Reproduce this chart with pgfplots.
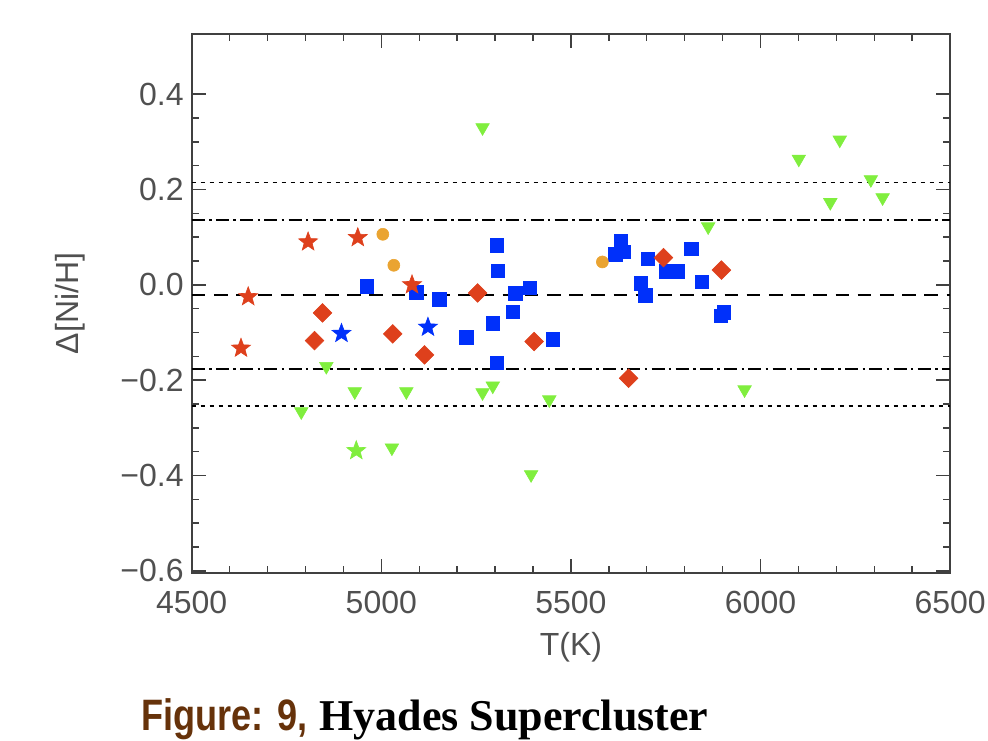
\documentclass[border=0pt]{standalone}
\usepackage{fontspec}
\setmainfont{Liberation Sans}
\newfontfamily\capserif{Liberation Serif}
\newfontfamily\capsans[FakeStretch=0.82]{Liberation Sans}
\usepackage{pgfplots}
\pgfplotsset{compat=1.18}

\definecolor{tickgray}{RGB}{80,80,80}
\definecolor{sqblue}{RGB}{0,48,250}
\definecolor{dred}{RGB}{222,64,28}
\definecolor{corange}{RGB}{234,164,50}
\definecolor{tgreen}{RGB}{128,238,62}
\definecolor{capbrown}{RGB}{102,50,10}

\pgfdeclareplotmark{fstar}{%
  \pgfpathmoveto{\pgfqpointpolar{90}{\pgfplotmarksize}}%
  \pgfpathlineto{\pgfqpointpolar{126}{.42\pgfplotmarksize}}%
  \pgfpathlineto{\pgfqpointpolar{162}{\pgfplotmarksize}}%
  \pgfpathlineto{\pgfqpointpolar{198}{.42\pgfplotmarksize}}%
  \pgfpathlineto{\pgfqpointpolar{234}{\pgfplotmarksize}}%
  \pgfpathlineto{\pgfqpointpolar{270}{.42\pgfplotmarksize}}%
  \pgfpathlineto{\pgfqpointpolar{306}{\pgfplotmarksize}}%
  \pgfpathlineto{\pgfqpointpolar{342}{.42\pgfplotmarksize}}%
  \pgfpathlineto{\pgfqpointpolar{18}{\pgfplotmarksize}}%
  \pgfpathlineto{\pgfqpointpolar{54}{.42\pgfplotmarksize}}%
  \pgfpathclose
  \pgfusepathqfillstroke
}

\begin{document}
\begin{tikzpicture}
\useasboundingbox (-95.85pt,-83.65pt) rectangle (398.15pt,286.35pt);
\begin{axis}[
  at={(0,0)}, anchor=south west,
  scale only axis, width=379.2pt, height=269.3pt,
  xmin=4500, xmax=6500, ymin=-0.604, ymax=0.526,
  xtick={4500,5000,5500,6000,6500},
  xticklabels={4500,5000,5500,6000,6500},
  ytick={-0.6,-0.4,-0.2,0,0.2,0.4},
  yticklabels={−0.6,−0.4,−0.2,0.0,0.2,0.4},
  minor x tick num=4, minor y tick num=3,
  major tick length=7pt, minor tick length=3.6pt,
  tick style={color=black!75, line width=0.7pt},
  axis line style={color=black!75, line width=0.9pt},
  tick label style={font=\fontsize{16}{19}\selectfont, text=tickgray},
  yticklabel style={xshift=-0.5pt},
  xticklabel style={yshift=-5.65pt},
  every axis x label/.style={at={(axis description cs:0.5,0)}, anchor=north, inner sep=0pt, yshift=-29.5pt, font=\fontsize{16}{19}\selectfont, text=tickgray},
  every axis y label/.style={at={(axis description cs:0,0.5)}, xshift=-60.85pt, rotate=90, anchor=center, font=\fontsize{16}{19}\selectfont, text=tickgray},
  xlabel={T(K)},
  ylabel={Δ[Ni/H]},
  clip=false,
]
% reference lines
\addplot[black, line width=0.9pt, dash pattern=on 6.8pt off 4.3pt] coordinates {(4500,-0.022) (6500,-0.022)};
\addplot[black, line width=0.9pt, dash pattern=on 6.5pt off 2.2pt on 1.2pt off 2.2pt] coordinates {(4500,0.1356) (6500,0.1356)};
\addplot[black, line width=0.9pt, dash pattern=on 6.5pt off 2.2pt on 1.2pt off 2.2pt] coordinates {(4500,-0.1767) (6500,-0.1767)};
\addplot[black, line width=0.9pt, dash pattern=on 2pt off 2.5pt] coordinates {(4500,0.2147) (6500,0.2147)};
\addplot[black, line width=0.9pt, dash pattern=on 2pt off 2.5pt] coordinates {(4500,-0.255) (6500,-0.255)};
% green triangles
\addplot[only marks, mark=triangle*, mark size=3.9pt, mark options={rotate=180, fill=tgreen, draw=tgreen, line width=0.3pt}] coordinates {
(5267,0.330) (4855,-0.171) (4930,-0.224) (5066,-0.224) (4789,-0.266) (5267,-0.226)
(5294,-0.212) (5443,-0.241) (5028,-0.342) (5395,-0.398) (5862,0.122) (6101,0.264)
(6209,0.304) (6291,0.221) (6184,0.173) (6322,0.183) (5958,-0.220)};
% green star
\addplot[only marks, mark=fstar, mark size=5pt, mark options={fill=tgreen, draw=tgreen, line width=0.3pt}] coordinates {(4934,-0.348)};
% blue squares
\addplot[only marks, mark=square*, mark size=3.35pt, mark options={fill=sqblue, draw=sqblue, line width=0.3pt}] coordinates {
(4962,-0.003) (5092,-0.016) (5153,-0.030) (5304,0.083) (5307,0.029) (5353,-0.018)
(5391,-0.006) (5346,-0.057) (5224,-0.110) (5294,-0.081) (5304,-0.164) (5453,-0.114)
(5632,0.092) (5617,0.064) (5640,0.069) (5703,0.054) (5684,0.003) (5696,-0.022)
(5752,0.028) (5782,0.028) (5818,0.076) (5845,0.006) (5903,-0.058) (5895,-0.065)};
% red stars
\addplot[only marks, mark=fstar, mark size=5pt, mark options={fill=dred, draw=dred, line width=0.3pt}] coordinates {
(4807,0.090) (4938,0.099) (4649,-0.025) (5081,0.000) (4630,-0.133)};
% blue stars
\addplot[only marks, mark=fstar, mark size=5pt, mark options={fill=sqblue, draw=sqblue, line width=0.3pt}] coordinates {
(4895,-0.102) (5123,-0.089)};
% orange circles
\addplot[only marks, mark=*, mark size=3pt, mark options={fill=corange, draw=corange, line width=0.3pt}] coordinates {
(5004,0.106) (5033,0.041) (5583,0.048)};
% red diamonds
\addplot[only marks, mark=square*, mark size=3.3pt, mark options={rotate=45, fill=dred, draw=dred, line width=0.3pt}] coordinates {
(5254,-0.017) (4845,-0.059) (4824,-0.117) (5030,-0.103) (5114,-0.147) (5403,-0.119)
(5744,0.057) (5897,0.031) (5652,-0.196)};
\end{axis}
\node[anchor=base west, inner sep=0pt] at (-25.35pt,-78.65pt) {\fontsize{22}{25}\selectfont{\capsans\bfseries\color{capbrown}Figure: 9,} {\capserif\bfseries Hyades Supercluster}};
\end{tikzpicture}
\end{document}
